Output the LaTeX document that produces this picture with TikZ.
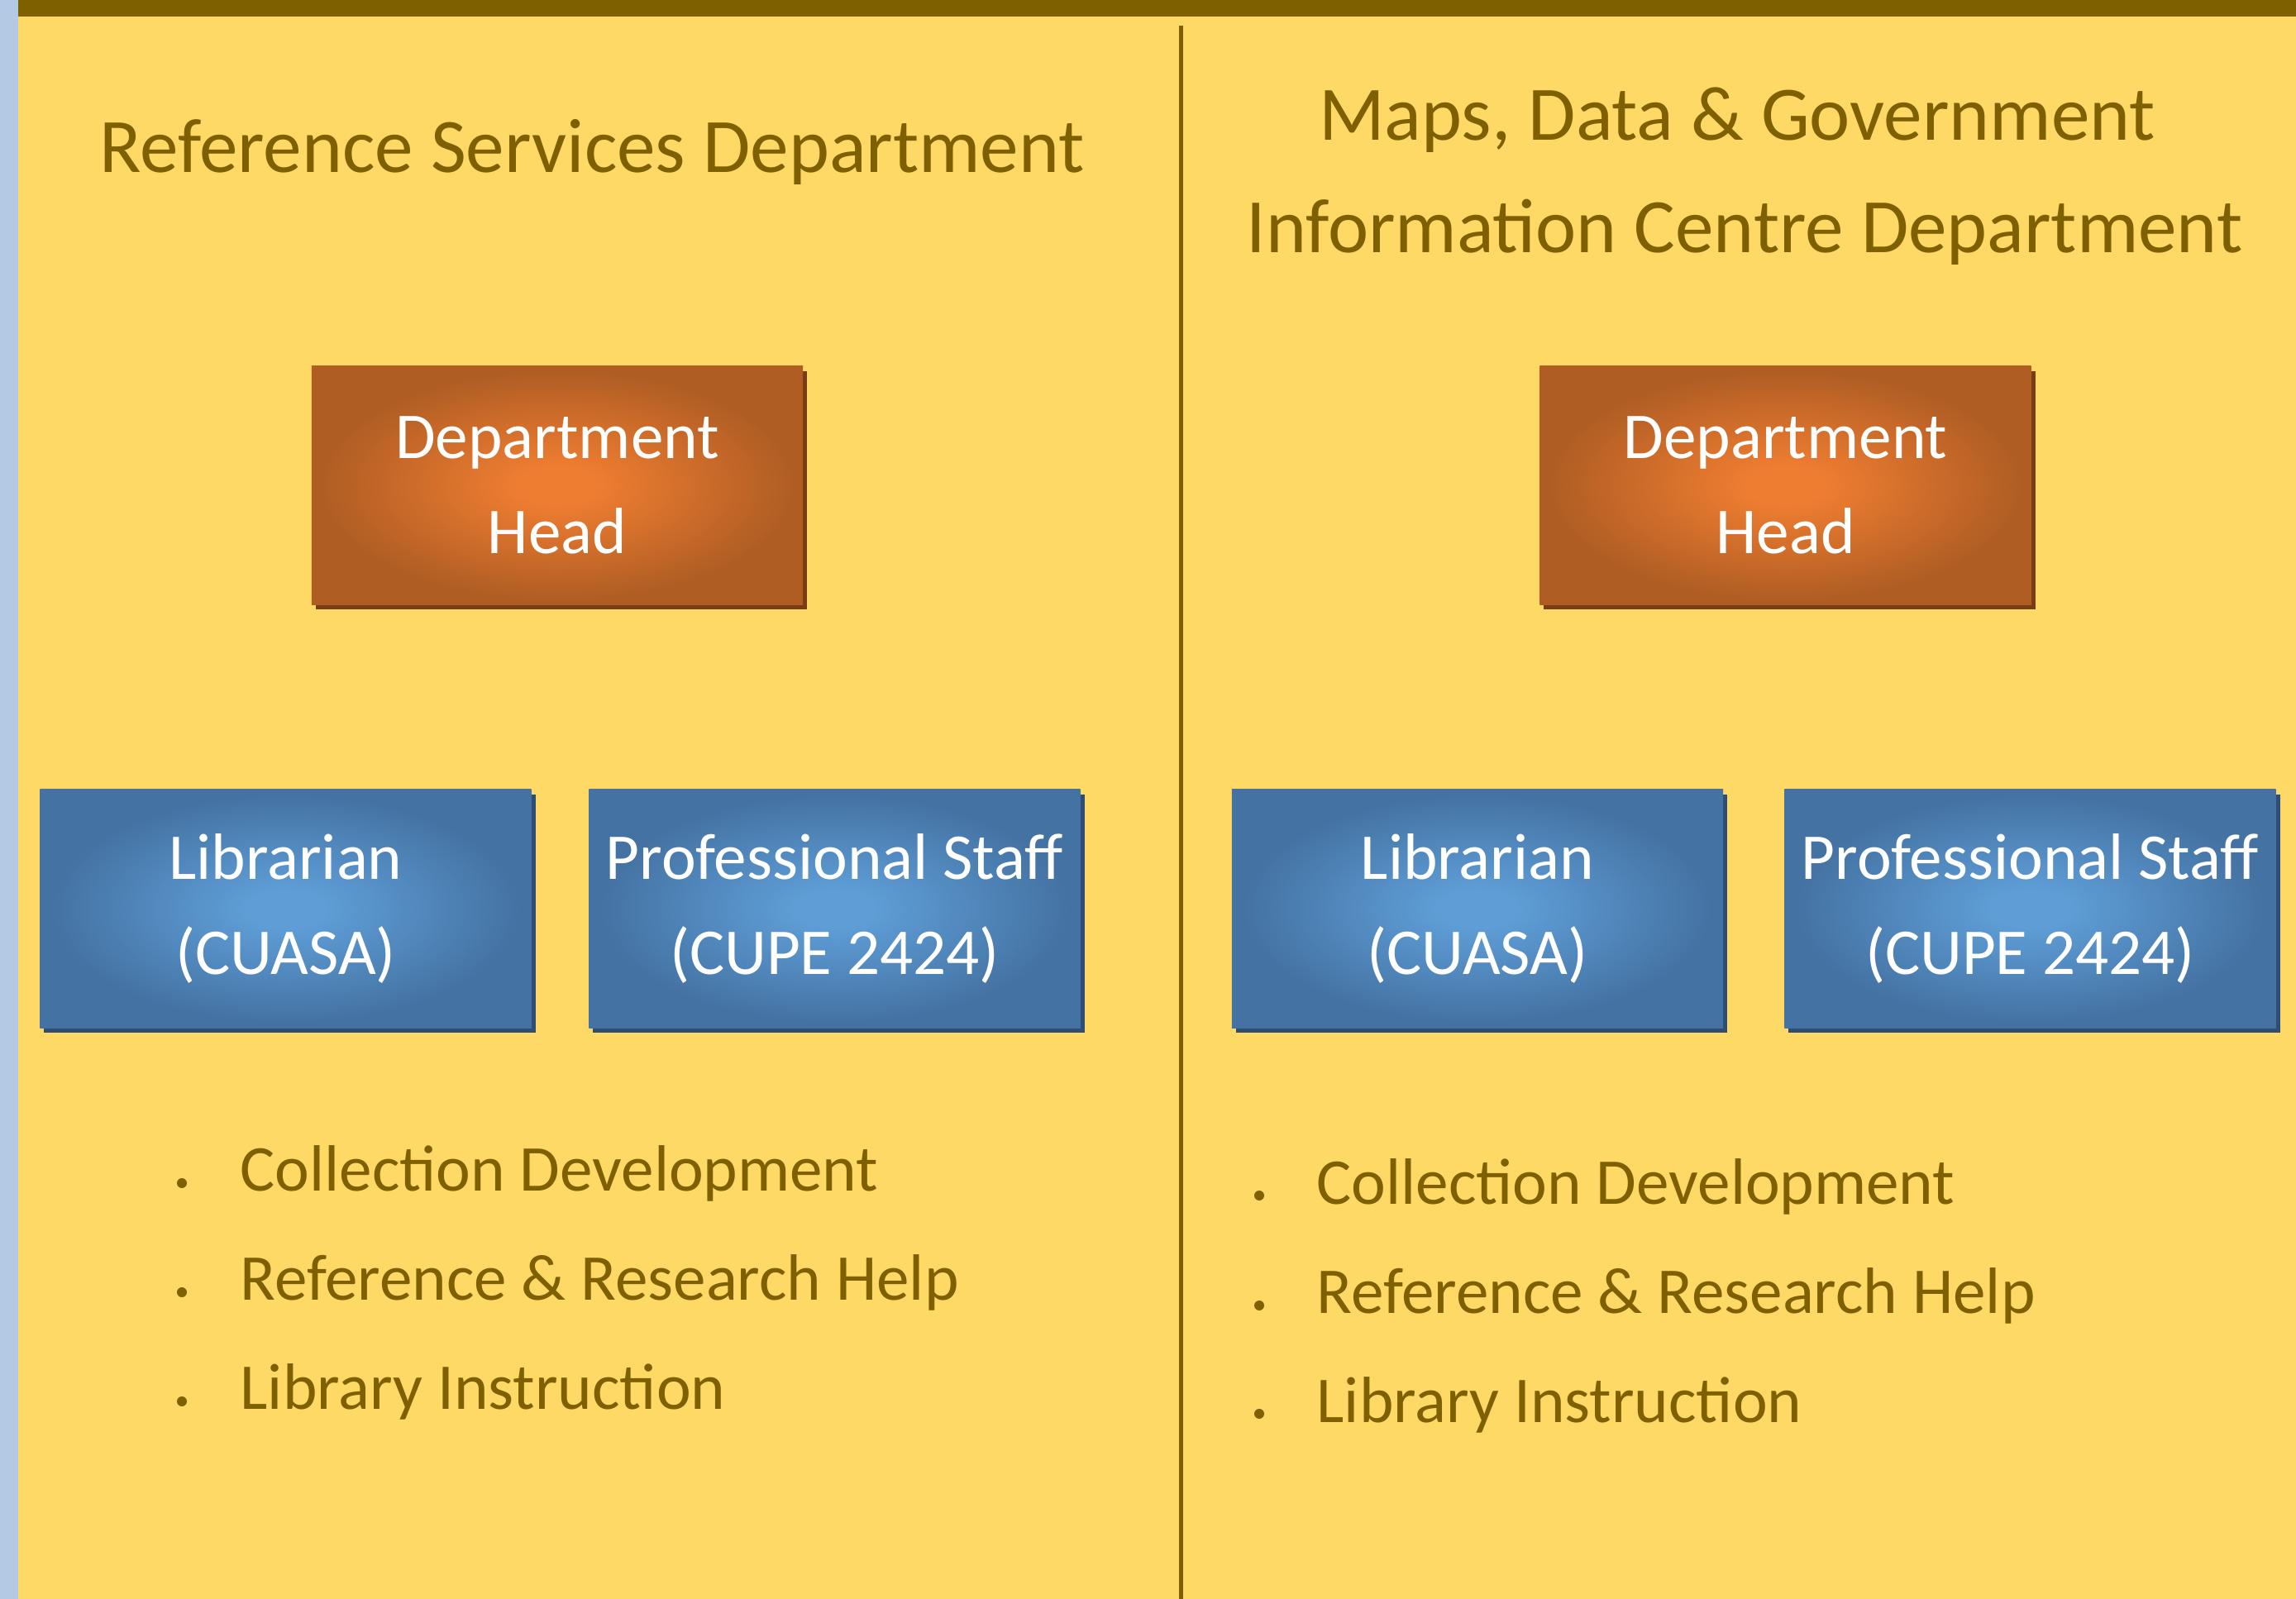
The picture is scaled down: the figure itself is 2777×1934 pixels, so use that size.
\documentclass[tikz,border=0pt]{standalone}
\usepackage{fontspec}
\setmainfont{Carlito}
\usetikzlibrary{shadows}
\definecolor{panel}{HTML}{FFD966}
\definecolor{gold}{HTML}{7F6000}
\definecolor{sidebar}{HTML}{B4C9E4}
\definecolor{headin}{HTML}{EE7D31}
\definecolor{headout}{HTML}{B05D24}
\definecolor{headshadow}{HTML}{7A3C14}
\definecolor{staffin}{HTML}{5E9DD6}
\definecolor{staffout}{HTML}{4472A2}
\definecolor{staffshadow}{HTML}{2E4E76}
\pgfdeclareradialshading{headglow}{\pgfpoint{0bp}{0bp}}{color(0bp)=(headin); color(4bp)=(headin); color(24bp)=(headout); color(50bp)=(headout)}
\pgfdeclareradialshading{staffglow}{\pgfpoint{0bp}{0bp}}{color(0bp)=(staffin); color(4bp)=(staffin); color(24bp)=(staffout); color(50bp)=(staffout)}
\tikzset{headbox/.style={shade,shading=headglow,minimum width=5.94cm,minimum height=2.88cm,inner sep=2pt,
           text=white,align=center,font=\fontsize{22.5}{32.7}\selectfont,
           drop shadow={shadow xshift=1.4pt,shadow yshift=-1.6pt,fill=headshadow,opacity=1}},
         staffbox/.style={headbox,shading=staffglow,
           drop shadow={shadow xshift=1.4pt,shadow yshift=-1.6pt,fill=staffshadow,opacity=1}},
         title/.style={text=gold,inner sep=0pt,anchor=base,font=\fontsize{26.5}{38}\selectfont},
         item/.style={text=gold,inner sep=0pt,anchor=base west,font=\fontsize{22.5}{27}\selectfont},
         dot/.style={circle,fill=gold,inner sep=0pt,minimum size=0.12cm}}

\begin{document}
\begin{tikzpicture}[x=0.01cm,y=-0.01cm]
        \useasboundingbox (0,0) rectangle (2777,1934);
        \fill[panel] (0,0) rectangle (2777,1934);
        \fill[sidebar] (0,0) rectangle (22,1934);
        \fill[gold] (22,0) rectangle (2777,20);
        \draw[gold,line width=0.05cm] (1428.5,31) -- (1428.5,1934);

        \node[title](ltitle)at(716,209){Reference Services Department};
        \node[title](rtitle1)at(2101,170){Maps, Data \& Government};
        \node[title](rtitle2)at(2110,306){Information Centre Department};

        \node[headbox](lhead)at(674,587){Department\\Head};
        \node[headbox](rhead)at(2159.5,587){Department\\Head};

        \node[staffbox](llib)at(345.5,1099){Librarian\\(CUASA)};
        \node[staffbox](lstaff)at(1009.5,1099){Professional Staff\\(CUPE 2424)};
        \node[staffbox](rlib)at(1787,1099){Librarian\\(CUASA)};
        \node[staffbox](rstaff)at(2455.5,1099){Professional Staff\\(CUPE 2424)};

        \node[dot](ldot1)at(220,1431){};
        \node[dot](ldot2)at(220,1563){};
        \node[dot](ldot3)at(220,1695){};
        \node[item](litem1)at(290,1441){Collection Development};
        \node[item](litem2)at(290,1573){Reference \& Research Help};
        \node[item](litem3)at(290,1705){Library Instruction};

        \node[dot](rdot1)at(1523,1446){};
        \node[dot](rdot2)at(1523,1579){};
        \node[dot](rdot3)at(1523,1710){};
        \node[item](ritem1)at(1592,1456){Collection Development};
        \node[item](ritem2)at(1592,1589){Reference \& Research Help};
        \node[item](ritem3)at(1592,1720){Library Instruction};
    \end{tikzpicture}
\end{document}
